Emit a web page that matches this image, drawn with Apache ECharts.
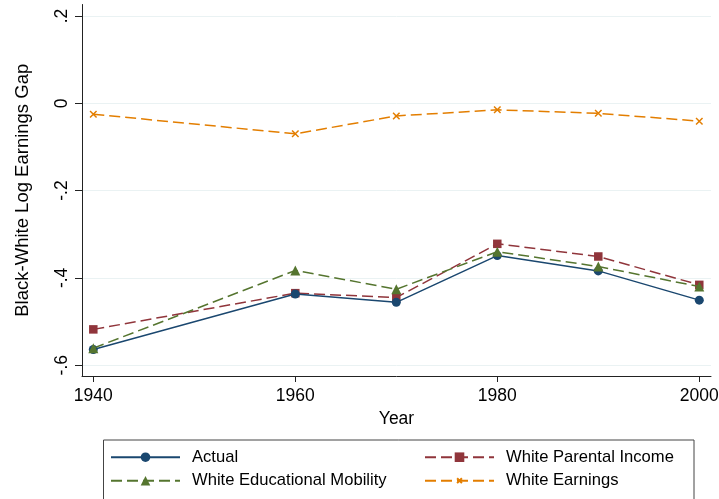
<!DOCTYPE html>
<html>
<head>
<meta charset="utf-8">
<script src="https://cdn.jsdelivr.net/npm/echarts@6/dist/echarts.min.js"></script>
<style>
html,body{margin:0;padding:0;background:#fff;}
#chart{width:719px;height:499px;}
</style>
</head>
<body>
<div id="chart"></div>
<script>
// ---- data ----
var years = [1940, 1960, 1970, 1980, 1990, 2000];
var actual = [-0.564, -0.437, -0.456, -0.349, -0.384, -0.451];
var whiteParentalIncome = [-0.518, -0.435, -0.445, -0.322, -0.351, -0.416];
var whiteEducationalMobility = [-0.561, -0.383, -0.426, -0.340, -0.374, -0.420];
var whiteEarnings = [-0.025, -0.070, -0.029, -0.015, -0.023, -0.041];

var xTickValues = [1940, 1960, 1980, 2000];
var yTickValues = [-0.6, -0.4, -0.2, 0, 0.2];
var yTickLabels = ['-.6', '-.4', '-.2', '0', '.2'];

var seriesNames = ['Actual', 'White Parental Income', 'White Educational Mobility', 'White Earnings'];

function pairs(vals) {
  return years.map(function (y, i) { return [y, vals[i]]; });
}

var FONT = '"Liberation Sans", Arial, Helvetica, sans-serif';
var cNavy = '#1a476f', cMaroon = '#90353b', cGreen = '#55752f', cOrange = '#e37e00';
// "x" glyph padded with move-to points so it fills only half the symbol box
var xPath = 'path://M-5,-5 M15,15 M0,0 L10,10 M10,0 L0,10';

var chart = echarts.init(document.getElementById('chart'), null, {renderer: 'canvas'});
var legendCommon = {
  orient: 'vertical', top: 448.7, padding: 0,
  itemWidth: 69, itemHeight: 12, itemGap: 6.5, selectedMode: false,
  textStyle: {fontFamily: FONT, fontSize: 16.6, color: '#000', lineHeight: 16, padding: [0, 0, 0, 7]}
};
var option = {
  animation: false,
  backgroundColor: '#ffffff',
  textStyle: {fontFamily: FONT},
  grid: {left: 82, right: 8, top: 4.5, bottom: 123, containLabel: false, outerBoundsMode: 'none'},
  xAxis: {
    type: 'value',
    min: 1938.88, max: 2001.16,
    name: 'Year', nameLocation: 'middle', nameGap: 33,
    nameTextStyle: {fontFamily: FONT, fontSize: 17.5, color: '#000'},
    axisLine: {show: true, onZero: false, lineStyle: {color: '#222', width: 1}},
    axisTick: {show: true, length: 6, customValues: xTickValues, lineStyle: {color: '#222'}},
    axisLabel: {customValues: xTickValues, margin: 11, fontFamily: FONT, fontSize: 17.5, color: '#000',
      formatter: function (v) { return String(v); }},
    splitLine: {show: false}
  },
  yAxis: {
    type: 'value',
    min: -0.6248, max: 0.2263,
    name: 'Black-White Log Earnings Gap', nameLocation: 'middle', nameGap: 50,
    nameRotate: 90,
    nameTextStyle: {fontFamily: FONT, fontSize: 18.5, color: '#000'},
    axisLine: {show: true, onZero: false, lineStyle: {color: '#222', width: 1}},
    axisTick: {show: true, length: 7, customValues: yTickValues, lineStyle: {color: '#222'}},
    axisLabel: {customValues: yTickValues, rotate: 90, margin: 11, fontFamily: FONT, fontSize: 17.5, color: '#000',
      formatter: function (v) {
        for (var i = 0; i < yTickValues.length; i++) {
          if (Math.abs(v - yTickValues[i]) < 1e-6) return yTickLabels[i];
        }
        return '';
      }},
    splitLine: {show: true, lineStyle: {color: '#eaf2f3', width: 1}}
  },
  legend: [
    Object.assign({data: [seriesNames[0], seriesNames[2]], left: 110}, legendCommon),
    Object.assign({data: [seriesNames[1], seriesNames[3]], left: 424}, legendCommon)
  ],
  graphic: [{
    type: 'rect', left: 101, top: 437.5, silent: true,
    shape: {width: 590.5, height: 60},
    style: {fill: 'none', stroke: '#444', lineWidth: 1}
  }],
  series: [
    {
      name: seriesNames[0], type: 'line', data: pairs(actual),
      symbol: 'circle', symbolSize: 9, z: 4,
      lineStyle: {color: cNavy, width: 1.5, type: 'solid'},
      itemStyle: {color: cNavy}
    },
    {
      name: seriesNames[1], type: 'line', data: pairs(whiteParentalIncome),
      symbol: 'rect', symbolSize: 8.5, z: 3,
      lineStyle: {color: cMaroon, width: 1.5, type: [11, 5]},
      itemStyle: {color: cMaroon}
    },
    {
      name: seriesNames[2], type: 'line', data: pairs(whiteEducationalMobility),
      symbol: 'triangle', symbolSize: 10, z: 5,
      lineStyle: {color: cGreen, width: 1.5, type: [11, 5]},
      itemStyle: {color: cGreen}
    },
    {
      name: seriesNames[3], type: 'line', data: pairs(whiteEarnings),
      symbol: xPath, symbolSize: 13, z: 3,
      lineStyle: {color: cOrange, width: 1.5, type: [11, 5]},
      itemStyle: {color: cOrange, borderColor: cOrange, borderWidth: 1.5}
    }
  ]
};
chart.setOption(option);
</script>
</body>
</html>
